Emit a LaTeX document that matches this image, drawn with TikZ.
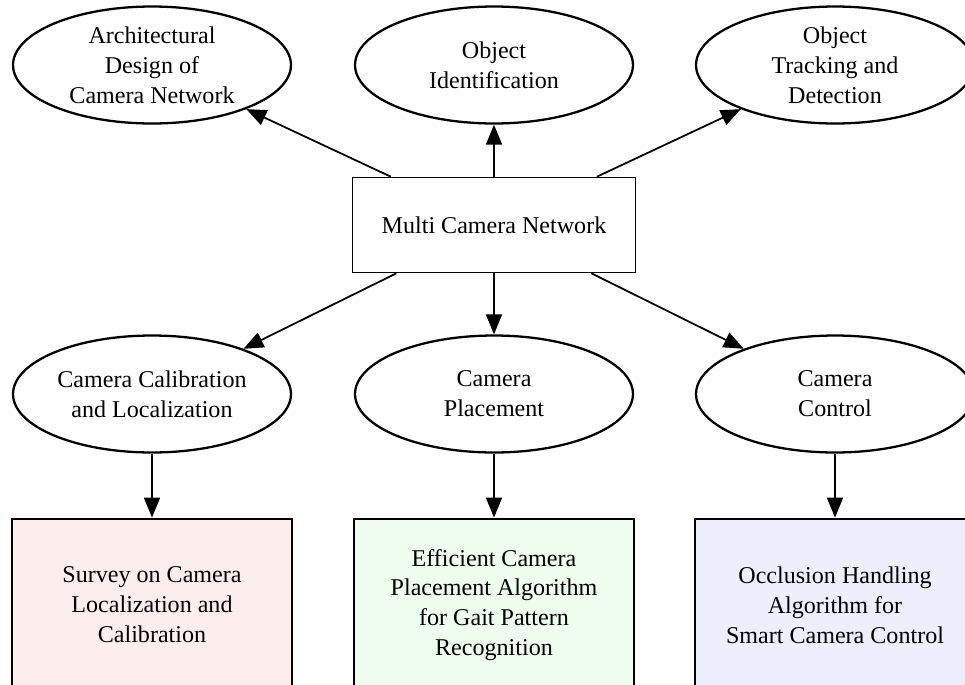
\documentclass[tikz,border=0pt]{standalone}
\usepackage{fontspec}
\setmainfont{Liberation Serif}
\usetikzlibrary{shapes.geometric}
\usetikzlibrary{arrows.meta}

\definecolor{surveypink}{RGB}{253,238,238}
\definecolor{placegreen}{RGB}{238,253,238}
\definecolor{occlblue}{RGB}{238,238,252}

\begin{document}
\begin{tikzpicture}[x=0.02cm, y=-0.02cm, font=\fontsize{13.7}{17}\selectfont]
            \tikzset{topic/.style={ellipse, draw, line width=1.3pt, minimum width=5.56cm, minimum height=2.34cm, inner sep=0pt, align=center}}
            \tikzset{hub/.style={rectangle, draw, line width=0.9pt, minimum width=5.66cm, minimum height=1.9cm, align=center}}
            \tikzset{paper/.style={rectangle, draw, line width=1.6pt, minimum width=5.6cm, minimum height=3.44cm, align=center}}
            \tikzset{link/.style={line width=1pt, -{Triangle[length=0.4cm, width=0.32cm]}}}
            \useasboundingbox (0,0) rectangle (965,684);
            \clip (0,0) rectangle (965,684);
            % centre
            \node[hub] (mcn) at (494,225) {Multi Camera Network};
            % upper row
            \node[topic] (arch) at (152,65) {Architectural\\Design of\\Camera Network};
            \node[topic] (ident) at (494,65) {Object\\Identification};
            \node[topic] (track) at (835,65) {Object\\Tracking and\\Detection};
            % lower row
            \node[topic] (calib) at (152,394) {Camera Calibration\\and Localization};
            \node[topic] (place) at (494,394) {Camera\\Placement};
            \node[topic] (ctrl) at (835,394) {Camera\\Control};
            % papers
            \node[paper, fill=surveypink] (survey) at (152,605) {Survey on Camera\\Localization and\\Calibration};
            \node[paper, fill=placegreen] (gait) at (494,605) {Efficient Camera\\Placement Algorithm\\for Gait Pattern\\Recognition};
            \node[paper, fill=occlblue] (occl) at (835,605) {Occlusion Handling\\Algorithm for\\Smart Camera Control};
            \foreach \t in {arch, ident, track, calib, place, ctrl} {
                \draw[link] (mcn) -- (\t);
            }
            \draw[link] (calib) -- (survey);
            \draw[link] (place) -- (gait);
            \draw[link] (ctrl) -- (occl);
        \end{tikzpicture}
\end{document}
